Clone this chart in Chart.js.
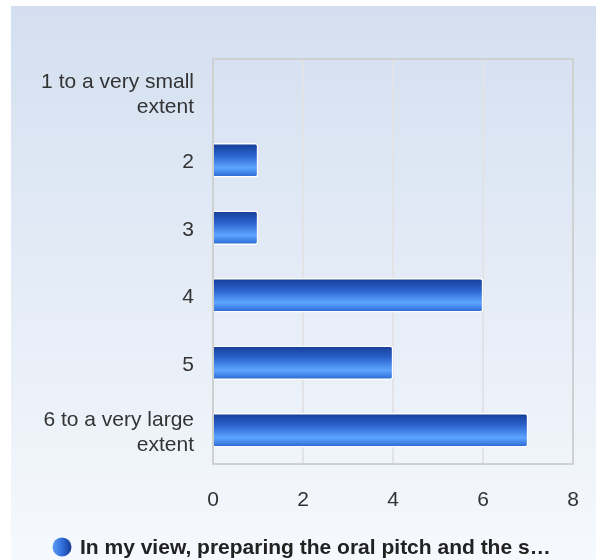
<!DOCTYPE html>
<html>
<head>
<meta charset="utf-8">
<script src="https://cdn.jsdelivr.net/npm/chart.js@4"></script>
<style>
  html, body { margin: 0; padding: 0; background: #fff; }
  #wrap { width: 596px; height: 560px; }
</style>
</head>
<body>
<div id="wrap"><canvas id="grafica" width="596" height="560"></canvas></div>
<script>
// Datos del grafico
const categorias = [
  ['1 to a very small', 'extent'],
  '2',
  '3',
  '4',
  '5',
  ['6 to a very large', 'extent']
];
const respuestas = [0, 1, 1, 6, 4, 7];
const nombreSerie = 'In my view, preparing the oral pitch and the s\u2026';
const ticksX = [0, 2, 4, 6, 8];

const fuente = "'Liberation Sans', Arial, sans-serif";

// Fondo del panel y borde del area de trazado
const fondoPlugin = {
  id: 'fondo',
  beforeDraw(chart) {
    const { ctx, width, height } = chart;
    ctx.save();
    ctx.fillStyle = '#ffffff';
    ctx.fillRect(0, 0, width, height);
    const g = ctx.createLinearGradient(0, 6, 0, height);
    g.addColorStop(0, '#d3dff0');
    g.addColorStop(1, '#f6f9fd');
    ctx.fillStyle = g;
    ctx.fillRect(11, 6, width - 11, height - 6);
    ctx.restore();
  },
  beforeDatasetsDraw(chart) {
    const { ctx, chartArea } = chart;
    ctx.save();
    ctx.strokeStyle = '#cfd0d2';
    ctx.lineWidth = 2;
    ctx.strokeRect(chartArea.left, chartArea.top, chartArea.right - chartArea.left, chartArea.bottom - chartArea.top);
    ctx.restore();
  },
  afterDraw(chart) {
    // leyenda
    const { ctx } = chart;
    ctx.save();
    const cx = 62, cy = 547, r = 9.5;
    const g = ctx.createLinearGradient(cx - r, 0, cx + r, 0);
    g.addColorStop(0, '#5b9cf4');
    g.addColorStop(0.55, '#2f6ad8');
    g.addColorStop(1, '#163a92');
    ctx.beginPath();
    ctx.arc(cx, cy, r, 0, Math.PI * 2);
    ctx.fillStyle = g;
    ctx.fill();
    ctx.font = 'bold 21px ' + fuente;
    ctx.fillStyle = '#222222';
    ctx.textBaseline = 'middle';
    ctx.textAlign = 'left';
    ctx.fillText(nombreSerie, 80, cy + 1);
    ctx.restore();
  }
};

const gradienteBarra = (context) => {
  const chart = context.chart;
  const ys = chart.scales.y;
  if (!ys || context.type !== 'data') return '#2f6ad8';
  const yc = ys.getPixelForValue(context.dataIndex);
  if (!isFinite(yc)) return '#2f6ad8';
  const h = 17;
  const g = chart.ctx.createLinearGradient(0, yc - h, 0, yc + h);
  g.addColorStop(0, '#163b96');
  g.addColorStop(0.35, '#2a62cc');
  g.addColorStop(0.72, '#5da5ff');
  g.addColorStop(1, '#2865d0');
  return g;
};

const ctx = document.getElementById('grafica').getContext('2d');
const grafica = new Chart(ctx, {
  type: 'bar',
  data: {
    labels: categorias,
    datasets: [
      {
        label: nombreSerie,
        data: respuestas,
        backgroundColor: gradienteBarra,
        borderColor: '#ffffff',
        borderWidth: 1.5,
        borderRadius: 3,
        barThickness: 34
      }
    ]
  },
  options: {
    indexAxis: 'y',
    responsive: false,
    animation: false,
    layout: { padding: { top: 59, right: 23, left: 0, bottom: 0 } },
    plugins: {
      legend: { display: false },
      tooltip: { enabled: false }
    },
    scales: {
      x: {
        min: 0,
        max: 8,
        afterBuildTicks(scale) {
          scale.ticks = ticksX.map((v) => ({ value: v }));
        },
        afterFit(scale) {
          scale.height = 96;
          scale.paddingLeft = 0;
          scale.paddingRight = 0;
        },
        grid: { color: '#e1e3e7', lineWidth: 2, drawTicks: false },
        border: { display: false },
        ticks: { padding: 24, color: '#333333', font: { family: fuente, size: 21 } }
      },
      y: {
        afterFit(scale) { scale.width = 213; },
        grid: { display: false, drawTicks: false },
        border: { display: false },
        ticks: { padding: 19, labelOffset: 2, color: '#333333', font: { family: fuente, size: 21, lineHeight: 1.19 } }
      }
    }
  },
  plugins: [fondoPlugin]
});
</script>
</body>
</html>
